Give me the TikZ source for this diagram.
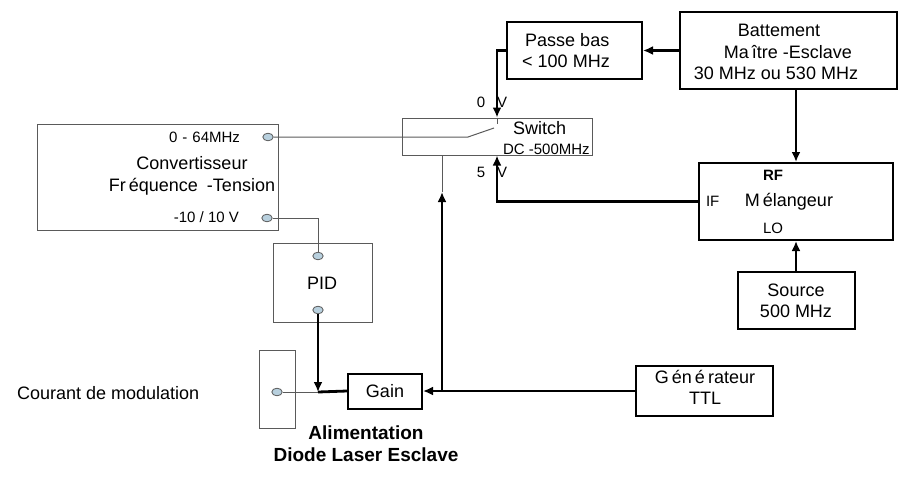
\documentclass[tikz,border=0pt]{standalone}
\usepackage{fontspec}
\setmainfont{Liberation Sans}
\usepackage{tikz}
\usetikzlibrary{positioning}
\usetikzlibrary{calc}
\usetikzlibrary{arrows.meta}
\usetikzlibrary{shapes.geometric}
\definecolor{portblue}{RGB}{184,208,222}
\definecolor{thingray}{RGB}{90,90,90}

\begin{document}
\begin{tikzpicture}[
    x=0.5pt, y=-0.5pt,
    font=\fontsize{9}{10.5}\selectfont,
    thick box/.style={draw=black, line width=1pt, inner sep=0pt},
    thin box/.style={draw=thingray, line width=0.5pt, inner sep=0pt},
    port/.style={ellipse, draw=thingray, fill=portblue, line width=0.4pt,
                 minimum width=5.2pt, minimum height=3.8pt, inner sep=0pt},
    wire/.style={draw=thingray, line width=0.5pt},
    signal/.style={draw=black, line width=1.4pt, -{Latex[length=5pt,width=4.5pt]}},
    small/.style={font=\fontsize{7.5}{9}\selectfont}
  ]
  \useasboundingbox (0,0) rectangle (900,493);

  % boxes
  \node[thin box, minimum width=120.5pt, minimum height=53pt] (conv) at (157.5,177) {};
  \node[thin box, minimum width=95pt, minimum height=18.5pt] (sw) at (497,136.5) {};
  \node[thick box, minimum width=67.5pt, minimum height=28.5pt] (passe) at (574.5,50.5) {};
  \node[thick box, minimum width=108.5pt, minimum height=38.5pt] (batt) at (788.5,50.5) {};
  \node[thick box, minimum width=97pt, minimum height=38.5pt] (mel) at (796,201.5) {};
  \node[thick box, minimum width=58.5pt, minimum height=28.5pt] (src) at (796,300.5) {};
  \node[thick box, minimum width=68.5pt, minimum height=25pt] (ttl) at (704.5,391) {};
  \node[thick box, minimum width=37pt, minimum height=17.5pt] (gain) at (385,391) {Gain};
  \node[thin box, minimum width=49.5pt, minimum height=39.5pt] (pid) at (322.5,282.5) {};
  \node[thin box, minimum width=18pt, minimum height=39pt] (alim) at (277,389) {};

  % texts
  \node (convA) at (192,163) {Convertisseur};
  \node (convB) at (192,187) {Fr\,équence\enspace-Tension};
  \node[small, anchor=east] (f064) at (247,137) {0\,\,-\,\,64MHz};
  \node[small, anchor=east] (v10) at (246,217) {-10 / 10 V};
  \node[anchor=west] (swA) at (506,128) {Switch};
  \node[small, anchor=west] (swB) at (496,149) {DC -500MHz};
  \node[small] (zeroV) at (492,102) {0\hspace{6pt}V};
  \node[small] (fiveV) at (492,172) {5\hspace{6pt}V};
  \node[align=left] (passeT) at (566,51) {\,Passe bas\\< 100 MHz};
  \node (battA) at (779,30) {Battement};
  \node (battB) at (788,52) {Ma\,ître -Esclave};
  \node (battC) at (776,73) {30 MHz ou 530 MHz};
  \node[small] (rf) at (773,175) {\textbf{RF}};
  \node (melT) at (789,202) {M\,élangeur};
  \node[small] (lo) at (773,228) {LO};
  \node[small, anchor=west] (ifl) at (699,201) {IF};
  \node[align=center] (srcT) at (796,301) {Source\\500 MHz};
  \node[align=center] (ttlT) at (705,387) {G\,én\,é\,rateur\\TTL};
  \node (pidT) at (322,283) {PID};
  \node[anchor=west] (courant) at (10,393) {Courant de modulation};
  \node[font=\fontsize{9.5}{11}\selectfont\bfseries, align=center] (alimT) at (366,444)
    {Alimentation\\Diode Laser Esclave};

  % ports
  \node[port] (p064) at (268,137) {};
  \node[port] (p10v) at (267,218) {};
  \node[port] (pidin) at (318,256) {};
  \node[port] (pidout) at (318,310) {};
  \node[port] (alimin) at (277,392) {};

  \coordinate (lever) at (468,137);
  \coordinate (contact) at (494,128);
  \coordinate (swpin) at (497,124);
  \coordinate (join) at (318,392);
  \coordinate (tap) at (442,391);
  \coordinate (tapup) at (442,192);

  % thin wiring
  \draw[wire] (p064) -- (lever) -- (contact);
  \draw[wire] (sw.north) -- (swpin);
  \draw[wire] (p10v) -| (pidin);
  \draw[wire] (alimin) -- (join);
  \draw[wire] (tapup) -- (tapup |- sw.south);

  % signals
  \draw[signal] (batt.west) -- (passe.east);
  \draw[signal] (passe.west) -| (sw.north);
  \draw[signal] (batt.south -| mel.north) -- (mel.north);
  \draw[signal] (src.north) -- (mel.south);
  \draw[signal] (mel.west) -| (sw.south);
  \draw[signal] (ttl.west) -- (gain.east);
  \draw[signal] (tap) -- (tapup);
  \draw[signal] (pidout) -- (join);
  \draw[draw=black, line width=1.4pt] (gain.west) -- (join);

\end{tikzpicture}
\end{document}
